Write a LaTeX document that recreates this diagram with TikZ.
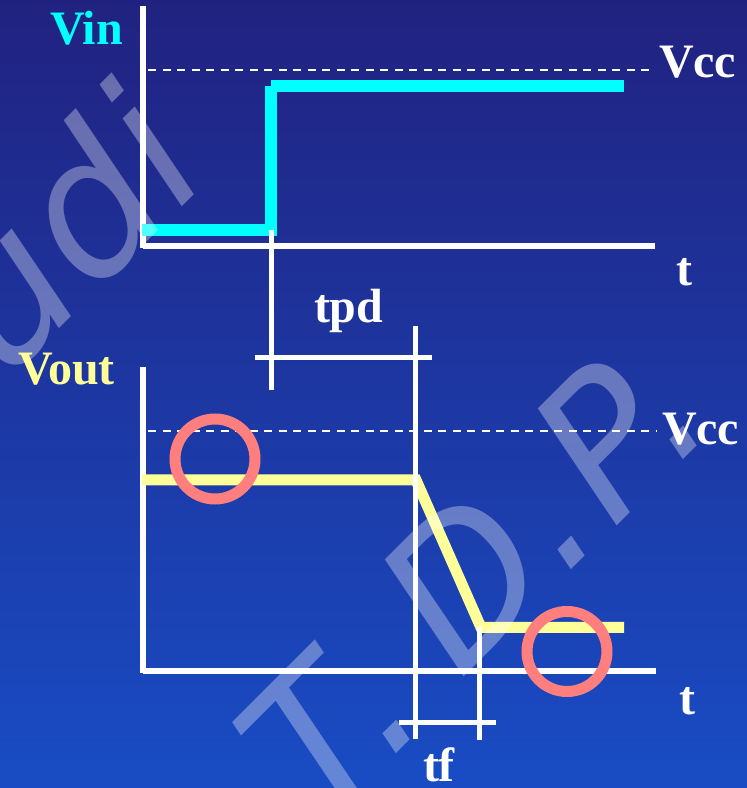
\documentclass[tikz,border=0pt]{standalone}
\usepackage{fontspec}
\setmainfont{Liberation Serif}
\newfontfamily\wmfont{DejaVu Sans}
\definecolor{bgtop}{RGB}{33,34,128}
\definecolor{bgbot}{RGB}{25,76,196}
\definecolor{vincol}{RGB}{0,255,255}
\definecolor{voutcol}{RGB}{255,255,153}
\definecolor{ringcol}{RGB}{255,127,127}
\begin{document}
\begin{tikzpicture}[x=1pt,y=1pt,
  axisline/.style={draw=white, line width=5.5pt},
  marker/.style={draw=white, line width=5pt},
  vccline/.style={draw=white, line width=2pt, dash pattern=on 8pt off 6.5pt},
  vinwave/.style={draw=vincol, line width=12pt},
  voutwave/.style={draw=voutcol, line width=11pt, line join=miter},
  ring/.style={draw=ringcol, line width=11pt},
  lbl/.style={font=\fontsize{48}{48}\selectfont\bfseries, text=white, inner sep=0pt, outer sep=0pt, anchor=base west},
  wm/.style={font=\wmfont\itshape\fontsize{190}{190}\selectfont, text=white, text opacity=0.33, rotate=45, inner sep=0pt, outer sep=0pt, anchor=base west}]
\useasboundingbox (0,0) rectangle (747,788);
\shade[top color=bgtop, bottom color=bgbot] (0,0) rectangle (747,788);
\clip (0,0) rectangle (747,788);
% Vcc reference lines
\draw[vccline] (148,718) -- (655,718);
\draw[vccline] (148,356.5) -- (656,356.5);
% axes
\draw[axisline] (143,782) -- (143,539.5);
\draw[axisline] (143,542) -- (655,542);
\draw[axisline] (143,421) -- (143,114.5);
\draw[axisline] (143,117) -- (656,117);
% Vin waveform
\draw[vinwave] (142,558) -- (271,558);
\draw[vinwave] (271,552) -- (271,702);
\draw[vinwave] (271,702) -- (624,702);
% Vout waveform
\draw[voutwave] (142,308) -- (416,308) -- (481,160.5) -- (624,160.5);
% timing markers
\draw[marker] (271,558) -- (271,398);
\draw[marker] (255,430) -- (432,430);
\draw[marker] (415.5,462) -- (415.5,49);
\draw[marker] (479,161) -- (479,48);
\draw[marker] (399,65) -- (496,65);
% rings
\draw[ring] (215,329) circle (40);
\draw[ring] (567,136.5) circle (40);
% watermark
\node[wm] (wmudi) at (7,406) {udi};
\node[wm] (wmT) at (322,-40) {T.};
\node[wm] (wmD) at (460,107) {D.};
\node[wm] (wmP) at (613,258) {P.};
% labels
\node[lbl, text=vincol] (vin) at (50,743) {Vin};
\node[lbl, text=voutcol] (vout) at (18,403) {Vout};
\node[lbl] (vcc1) at (659,710) {Vcc};
\node[lbl] (vcc2) at (662,343) {Vcc};
\node[lbl] (t1) at (676,502) {t};
\node[lbl] (t2) at (679,73) {t};
\node[lbl] (tpd) at (314,465) {tpd};
\node[lbl] (tf) at (423,6) {tf};
\end{tikzpicture}
\end{document}
